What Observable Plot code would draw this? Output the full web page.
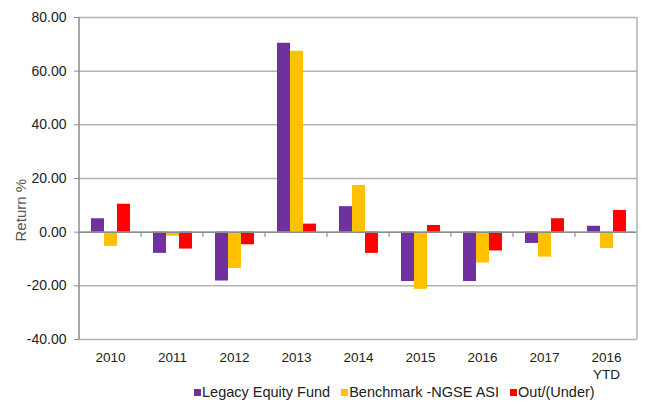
<!DOCTYPE html>
<html><head><meta charset="utf-8">
<script src="https://cdn.jsdelivr.net/npm/d3@7"></script>
<script src="https://cdn.jsdelivr.net/npm/@observablehq/plot@0.6"></script>
<style>
body{margin:0;background:#fff;font-family:"Liberation Sans",Arial,sans-serif;}
#wrap{position:relative;width:665px;height:405px;overflow:hidden;}
#wrap svg{position:absolute;left:0;top:0;}
#legend{position:absolute;left:194px;top:383px;height:18px;display:flex;align-items:center;font-size:14.5px;color:#222;white-space:nowrap;}
#legend .item{display:flex;align-items:center;margin-right:11px;}
#legend .sw{width:7px;height:7px;margin-right:1px;display:inline-block;}
</style></head><body><div id="wrap"></div>
<script>
const years = ["2010","2011","2012","2013","2014","2015","2016","2017","2016 YTD"];
const seriesNames = ["Legacy Equity Fund","Benchmark -NGSE ASI","Out/(Under)"];
const seriesColors = ["#7030A0","#FFC000","#FF0000"];
const fundReturns = [5.0,-7.9,-18.2,70.4,9.5,-18.4,-18.4,-4.2,2.2];
const benchmarkReturns = [-5.3,-1.5,-13.5,67.4,17.4,-21.3,-11.5,-9.3,-6.1];
const outUnder = [10.4,-6.3,-4.7,3.0,-7.9,2.5,-7.0,5.0,8.1];
const yTicks = [-40,-20,0,20,40,60,80];
const yLabel = "Return %";

const seriesValues = [fundReturns, benchmarkReturns, outUnder];
const data = years.flatMap((yr, i) => seriesNames.map((s, k) => ({year: yr, series: s, value: seriesValues[k][i]})));

const chart = Plot.plot({
  width: 665, height: 384,
  marginLeft: 77, marginRight: 27, marginTop: 17, marginBottom: 45,
  style: {fontFamily: "Liberation Sans, Arial, sans-serif", fontSize: "13px", color: "#222", background: "#fff"},
  fx: {domain: years, padding: 0, label: null, axis: null},
  x: {domain: seriesNames, paddingInner: 0, paddingOuter: 0.72, axis: null},
  y: {domain: [-40, 80], label: null},
  color: {domain: seriesNames, range: seriesColors},
  marks: [
    Plot.gridY(yTicks, {stroke: "#b3b3b3", strokeOpacity: 1, strokeWidth: 1.5}),
    Plot.barY(data, {fx: "year", x: "series", y: "value", fill: "series"}),
    Plot.ruleY([0], {stroke: "#8c8c8c", strokeWidth: 1.5}),
    Plot.axisY(yTicks, {tickFormat: d => d.toFixed(2), tickSize: 5, tickPadding: 8, fontSize: 14, label: null, stroke: "#8c8c8c"}),
    Plot.axisFx({anchor: "bottom", tickSize: 0, tickPadding: 11, tickFormat: d => d.replace(" ", "\n"), lineHeight: 1.25, fontSize: 13.5, label: null})
  ]
});

const svg = d3.select(chart);
const fx = chart.scale("fx"), y = chart.scale("y");
const bw = fx.bandwidth;
const x0 = fx.apply(years[0]), x1 = fx.apply(years[years.length - 1]) + bw;
const yTop = y.apply(80), yBot = y.apply(-40), y0 = y.apply(0);
const g = svg.append("g");
g.append("line").attr("x1", x1).attr("x2", x1).attr("y1", yTop).attr("y2", yBot).attr("stroke", "#b3b3b3").attr("stroke-width", 1.5);
g.append("line").attr("x1", x0).attr("x2", x0).attr("y1", yTop).attr("y2", yBot).attr("stroke", "#8c8c8c").attr("stroke-width", 1.5);
years.slice(1).forEach(yr => {
  const xx = fx.apply(yr);
  g.append("line").attr("x1", xx).attr("x2", xx).attr("y1", y0).attr("y2", y0 + 5).attr("stroke", "#8c8c8c").attr("stroke-width", 1.2);
});
g.append("text").attr("transform", `translate(22,${y.apply(8)}) rotate(-90)`)
  .attr("text-anchor", "middle").attr("dominant-baseline", "middle")
  .attr("font-size", 15).attr("fill", "#555").text(yLabel);

const wrap = document.getElementById("wrap");
wrap.appendChild(chart);
const legend = document.createElement("div");
legend.id = "legend";
seriesNames.forEach((s, k) => {
  const it = document.createElement("span");
  it.className = "item";
  const sw = document.createElement("span");
  sw.className = "sw"; sw.style.background = seriesColors[k];
  it.appendChild(sw);
  const t = document.createElement("span"); t.textContent = s;
  it.appendChild(t);
  legend.appendChild(it);
});
wrap.appendChild(legend);
</script></body></html>
